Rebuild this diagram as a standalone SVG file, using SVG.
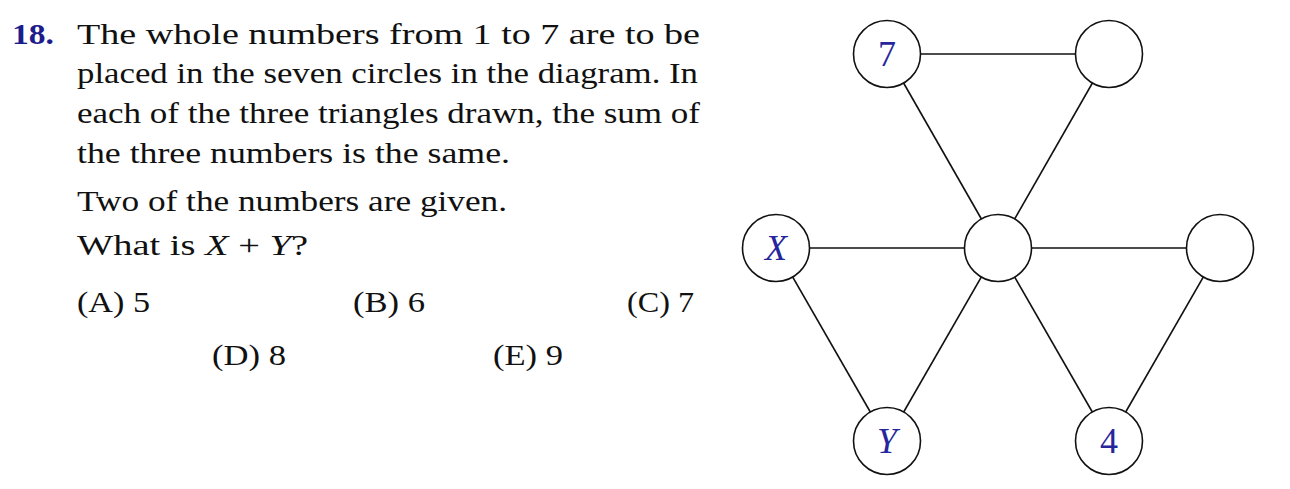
<svg xmlns="http://www.w3.org/2000/svg" width="1290" height="489" viewBox="0 0 1290 489">
<style>
.t{font-family:"Liberation Serif","Times New Roman",serif;font-size:30px;fill:#111}
.num{font-family:"Liberation Serif","Times New Roman",serif;font-size:30px;font-weight:bold;fill:#1c1c8c}
.lbl{font-family:"Liberation Serif","Times New Roman",serif;font-size:36px;fill:#26269c;text-anchor:middle}
.it{font-style:italic}
.node{fill:#fff;stroke:#111;stroke-width:1.6}
.edge{stroke:#111;stroke-width:1.6;fill:none}
</style>
<rect width="1290" height="489" fill="#fff"/>
<g id="question">
<text class="num" x="12" y="44" textLength="42" lengthAdjust="spacingAndGlyphs">18.</text>
<text class="t" x="77" y="44" textLength="623" lengthAdjust="spacingAndGlyphs">The whole numbers from 1 to 7 are to be</text>
<text class="t" x="77" y="83" textLength="621" lengthAdjust="spacingAndGlyphs">placed in the seven circles in the diagram. In</text>
<text class="t" x="77" y="122.5" textLength="623" lengthAdjust="spacingAndGlyphs">each of the three triangles drawn, the sum of</text>
<text class="t" x="77" y="162.5" textLength="433" lengthAdjust="spacingAndGlyphs">the three numbers is the same.</text>
<text class="t" x="77" y="210.5" textLength="430" lengthAdjust="spacingAndGlyphs">Two of the numbers are given.</text>
<text class="t" x="77" y="255" textLength="231" lengthAdjust="spacingAndGlyphs">What is <tspan class="it">X</tspan> + <tspan class="it">Y</tspan>?</text>
</g>
<g id="options">
<text class="t" x="77" y="312" textLength="73" lengthAdjust="spacingAndGlyphs">(A) 5</text>
<text class="t" x="353" y="312" textLength="72" lengthAdjust="spacingAndGlyphs">(B) 6</text>
<text class="t" x="627" y="312" textLength="67" lengthAdjust="spacingAndGlyphs">(C) 7</text>
<text class="t" x="212" y="365" textLength="74" lengthAdjust="spacingAndGlyphs">(D) 8</text>
<text class="t" x="493" y="365" textLength="70" lengthAdjust="spacingAndGlyphs">(E) 9</text>
</g>
<g id="connectors">
<line class="edge" x1="887" y1="54" x2="1109" y2="54"/>
<line class="edge" x1="887" y1="54" x2="998" y2="248"/>
<line class="edge" x1="1109" y1="54" x2="998" y2="248"/>
<line class="edge" x1="776" y1="248" x2="1220" y2="248"/>
<line class="edge" x1="776" y1="248" x2="887" y2="441"/>
<line class="edge" x1="887" y1="441" x2="998" y2="248"/>
<line class="edge" x1="998" y1="248" x2="1109" y2="441"/>
<line class="edge" x1="1220" y1="248" x2="1109" y2="441"/>
</g>
<g id="n7"><circle class="node" cx="887" cy="54" r="33.5"/><text class="lbl" x="887" y="66">7</text></g>
<g id="ntr"><circle class="node" cx="1109" cy="54" r="33.5"/></g>
<g id="nx"><circle class="node" cx="776" cy="248" r="33.5"/><text class="lbl it" x="776" y="260">X</text></g>
<g id="nc"><circle class="node" cx="998" cy="248" r="33.5"/></g>
<g id="nr"><circle class="node" cx="1220" cy="248" r="33.5"/></g>
<g id="ny"><circle class="node" cx="887" cy="441" r="33.5"/><text class="lbl it" x="887" y="453">Y</text></g>
<g id="n4"><circle class="node" cx="1109" cy="441" r="33.5"/><text class="lbl" x="1109" y="453">4</text></g>
</svg>
